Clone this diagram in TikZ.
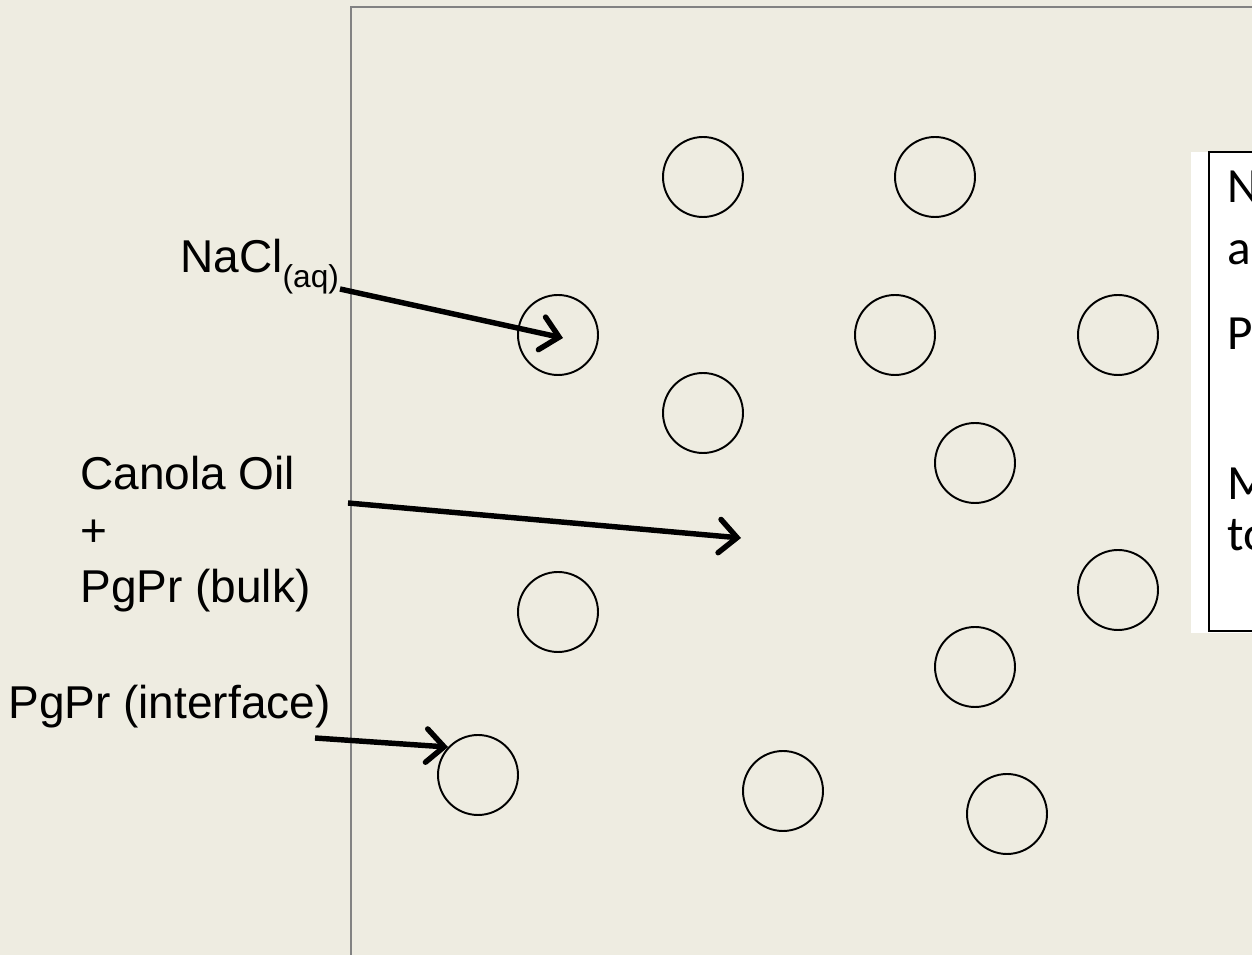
\documentclass[tikz,border=0pt]{standalone}
\usepackage{fontspec}
\setmainfont{Liberation Sans}
\newfontfamily\calfont{Carlito}
\usetikzlibrary{arrows.meta}
\definecolor{bgc}{RGB}{238,236,225}
\definecolor{framec}{RGB}{130,130,130}
\tikzset{
  drop/.style={circle,draw=black,line width=1.1pt,minimum size=1.6cm,inner sep=0pt},
  pointer/.style={line width=3.1pt,-{Straight Barb[length=10pt,width=19pt,line cap=round]}},
  lbl/.style={inner sep=0pt,font=\fontsize{26.2}{32.2}\selectfont},
  boxtxt/.style={inner sep=0pt,anchor=base west,font=\calfont\fontsize{28}{34}\selectfont}
}
\begin{document}
\begin{tikzpicture}[x=0.02cm,y=-0.02cm]
\useasboundingbox (0,0) rectangle (1252,955);
\clip (0,0) rectangle (1252,955);
\fill[bgc] (0,0) rectangle (1252,955);
% frame
\draw[framec,line width=1.2pt] (351,1000) -- (351,7) -- (1300,7);
% text box
\fill[white] (1191,152) rectangle (1300,633);
\draw[black,line width=1.2pt] (1300,152) -- (1209,152) -- (1209,631) -- (1300,631);
\node[boxtxt] (t1) at (1227,203) {N};
\node[boxtxt] (t2) at (1227,265) {a};
\node[boxtxt] (t3) at (1227,350) {P};
\node[boxtxt] (t4) at (1227,500) {M};
\node[boxtxt] (t5) at (1227,551) {to};
% droplets
\node[drop] (c1) at (703,177) {};
\node[drop] (c2) at (935,177) {};
\node[drop] (c3) at (558,335) {};
\node[drop] (c4) at (895,335) {};
\node[drop] (c5) at (1118,335) {};
\node[drop] (c6) at (703,413) {};
\node[drop] (c7) at (975,463) {};
\node[drop] (c8) at (558,612) {};
\node[drop] (c9) at (1118,590) {};
\node[drop] (c10) at (975,667) {};
\node[drop] (c11) at (478,775) {};
\node[drop] (c12) at (783,791) {};
\node[drop] (c13) at (1007,814) {};
% labels
\node[lbl,anchor=base west] (nacl) at (180,273) {NaCl\raisebox{-8pt}{\fontsize{18}{21}\selectfont(aq)}};
\node[lbl,anchor=base west,align=left] (oil) at (80,603) {Canola Oil\\+\\PgPr (bulk)};
\node[lbl,anchor=base west] (intf) at (8,719) {PgPr (interface)};
% arrows
\coordinate (s1) at (340,289);
\coordinate (s2) at (348,503);
\coordinate (e2) at (741,538);
\coordinate (s3) at (315,738);
\coordinate (e1) at (563,338);
\draw[pointer] (s1) -- (e1);
\draw[pointer] (s2) -- (e2);
\draw[pointer] (s3) -- (c11.137);
\end{tikzpicture}
\end{document}
